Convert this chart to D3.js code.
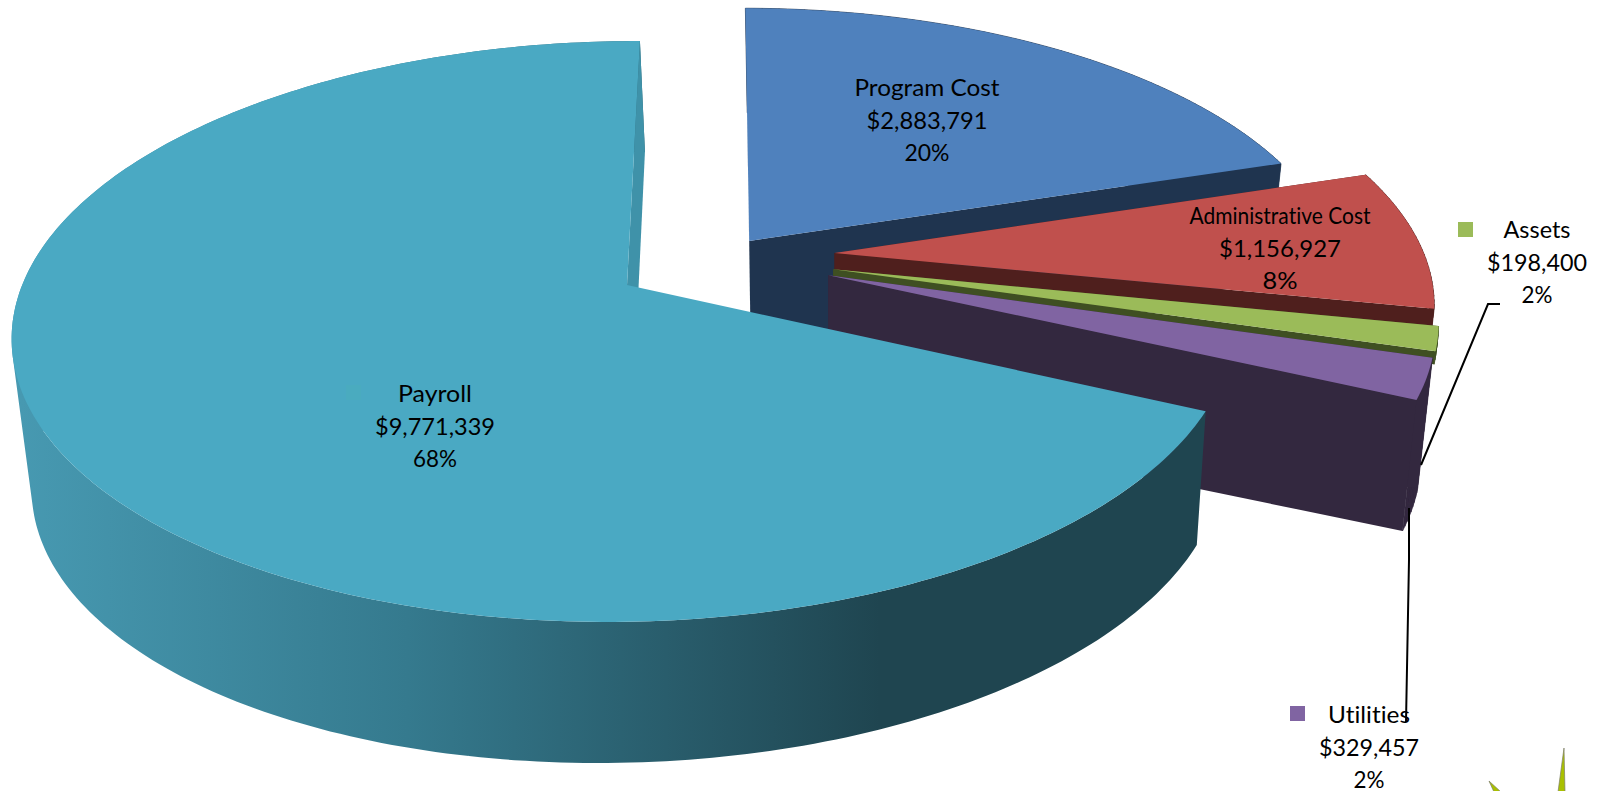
<!DOCTYPE html>
<html lang="en">
<head>
    <meta charset="UTF-8">
    <style>
        html, body { margin: 0; padding: 0; background: #fff; overflow: hidden; }
    </style>
</head>
<body>
    <script src="https://d3js.org/d3.v7.min.js"></script>
    <div id="here"></div>

    <script>
        // values
        const categories = ["Program Cost", "Administrative Cost", "Assets", "Utilities", "Payroll"];
        const amounts = [2883791, 1156927, 198400, 329457, 9771339];
        const amountLabels = ["$2,883,791", "$1,156,927", "$198,400", "$329,457", "$9,771,339"];
        const percentLabels = ["20%", "8%", "2%", "2%", "68%"];

        const topColors = ["#4f81bd", "#c0504d", "#9bbb59", "#8064a2", "#4aa9c3"];
        const wallColors = ["#1f344f", "#4f1f1d", "#3f4f22", "#33283f", "#3f92a9"];

        // how far each slice is pulled out of the pie, in radius units
        const explodeU = [0.204, 0.348, 0.344, 0.335, 0];
        const explodeV = [0.16, 0.115, 0.056, 0.035, 0];
        // share of the full wall height shown; the thin slices only show a strip above their neighbour
        const wallShare = [1, 0.2, 0.1, 1, 1];

        // label centres, first baselines and the width of each of the three lines, in pixels
        const labelX = [927, 1280, 1537, 1369, 435];
        const labelY = [96, 224, 238, 723, 402];
        const nameWidths = [145, 181, 67, 82, 74];
        const amountWidths = [121, 122, 100, 100, 120];
        const percentWidths = [45, 35, 31, 31, 44];

        const width = 1606, height = 791;

        // perspective projection of the pie top: u to the right, v away from the viewer
        const cam = { x0: 627, y0: 285, r: 603, t: 283, skew: 15, k: 0.16, m: 0.003 };
        const projectTop = (u, v) => {
            const w = 1 + cam.k * v + cam.m * u;
            return [
                cam.x0 + (cam.r * u + cam.skew * v) / w,
                cam.y0 - cam.t * v / w
            ];
        };
        // the pie's underside, a little narrower and shallower towards the back
        const projectBottom = share => (u, v) => {
            const [x, y] = projectTop(u, v);
            return [
                x + share * (5 - 15.3 * u),
                y + share * (141 - 8 * u - 30 * Math.max(v, 0))
            ];
        };

        const pie = d3.pie().sort(null).value(d => d)(amounts);
        const line = d3.line();

        const rim = (d, i, proj) => {
            const n = Math.max(2, Math.ceil((d.endAngle - d.startAngle) * 60));
            return d3.range(n + 1).map(j => {
                const a = d.startAngle + (d.endAngle - d.startAngle) * j / n;
                return proj(explodeU[i] + Math.sin(a), explodeV[i] + Math.cos(a));
            });
        };

        // one path of quads, all wound the same way, so the silhouette closes without seams
        const wallPath = (top, bottom) => d3.range(top.length - 1).map(j => {
            const quad = [top[j], top[j + 1], bottom[j + 1], bottom[j]];
            if (d3.polygonArea(quad) < 0) quad.reverse();
            return line(quad) + "Z";
        }).join("");

        const svg = d3.select("#here").append("svg")
            .attr("width", width)
            .attr("height", height)
            .style("display", "block");

        const grad = svg.append("defs").append("linearGradient")
            .attr("id", "payrollWall")
            .attr("gradientUnits", "userSpaceOnUse")
            .attr("x1", 20).attr("x2", 880).attr("y1", 0).attr("y2", 0);
        grad.append("stop").attr("offset", 0).attr("stop-color", "#4799b1");
        grad.append("stop").attr("offset", 0.45).attr("stop-color", "#357a8e");
        grad.append("stop").attr("offset", 1).attr("stop-color", "#1f4550");

        const slices = svg.append("g");
        pie.forEach((d, i) => {
            const g = slices.append("g");
            const projectUnder = projectBottom(wallShare[i]);
            const top = rim(d, i, projectTop), bottom = rim(d, i, projectUnder);
            const apexTop = projectTop(explodeU[i], explodeV[i]);
            const apexBottom = projectUnder(explodeU[i], explodeV[i]);
            const isPayroll = i === 4;

            // outer wall
            g.append("path")
                .attr("d", wallPath(top, bottom))
                .attr("fill-rule", "nonzero")
                .attr("fill", isPayroll ? "url(#payrollWall)" : wallColors[i])
                .attr("stroke", isPayroll ? "none" : wallColors[i])
                .attr("stroke-width", 0.7);

            // start wall, hidden on the payroll slice
            if (!isPayroll) {
                g.append("path")
                    .attr("d", line([apexTop, top[0], bottom[0], apexBottom]) + "Z")
                    .attr("fill", wallColors[i]);
            }
            // end wall
            g.append("path")
                .attr("d", line([apexTop, top[top.length - 1], bottom[bottom.length - 1], apexBottom]) + "Z")
                .attr("fill", wallColors[i]);
            // top face
            g.append("path")
                .attr("d", line([apexTop].concat(top)) + "Z")
                .attr("fill", topColors[i]);
        });

        // leader lines
        const leaderAssets = [[1500, 304], [1488, 304], [1421, 465]];
        const leaderUtilities = [[1409, 508], [1409, 560], [1406, 722]];
        [leaderAssets, leaderUtilities].forEach(pts => {
            svg.append("path")
                .attr("d", line(pts))
                .attr("fill", "none")
                .attr("stroke", "#000")
                .attr("stroke-width", 2);
        });

        // legend keys next to the labels
        const keyX = [null, null, 1458, 1290, 346];
        const keyY = [null, null, 222, 706, 385];
        const keyColors = [null, null, topColors[2], topColors[3], "#4aabbf"];
        keyX.forEach((x, i) => {
            if (x === null) return;
            svg.append("rect")
                .attr("x", x).attr("y", keyY[i])
                .attr("width", 15).attr("height", 15)
                .attr("fill", keyColors[i]);
        });

        // data labels
        const labels = svg.append("g")
            .attr("font-family", "Lato, 'Open Sans', sans-serif")
            .attr("font-size", 23)
            .attr("fill", "#000")
            .attr("text-anchor", "middle")
            .style("font-variant-ligatures", "none");
        categories.forEach((c, i) => {
            [[c, nameWidths[i]], [amountLabels[i], amountWidths[i]], [percentLabels[i], percentWidths[i]]].forEach(([s, w], j) => {
                labels.append("text")
                    .attr("x", labelX[i])
                    .attr("y", labelY[i] + j * 32.5)
                    .attr("textLength", w)
                    .attr("lengthAdjust", "spacingAndGlyphs")
                    .text(s);
            });
        });

        // the green spikes of the decoration cut off at the bottom right corner
        const spikes = [
            [[1489, 781], [1501, 792], [1494, 792]],
            [[1564, 748], [1565, 792], [1558, 792]]
        ];
        spikes.forEach(pts => {
            svg.append("path")
                .attr("d", line(pts) + "Z")
                .attr("fill", "#a9c000")
                .attr("stroke", "#7d7d6a")
                .attr("stroke-width", 0.7);
        });
    </script>
</body>
</html>
